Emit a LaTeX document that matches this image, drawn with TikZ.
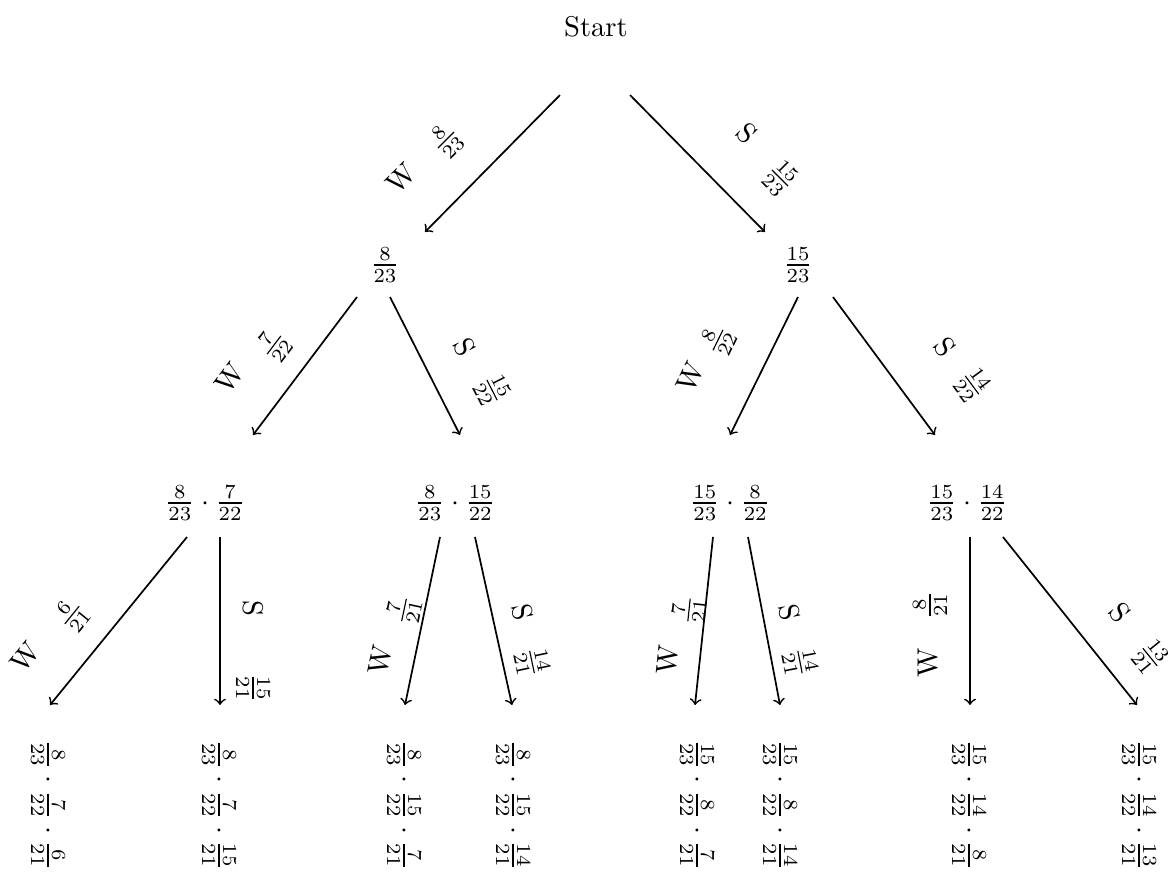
\documentclass[tikz,border=0pt]{standalone}
\begin{document}
\begin{tikzpicture}[x=0.35pt,y=0.35pt,
  edge/.style={->,semithick},
  lab/.style={inner sep=1pt},
  leaf/.style={inner sep=1pt,rotate=-90}]
\useasboundingbox (0,0) rectangle (1175,-872);
% nodes
\node (start) at (596,-27) {Start};
\node (n1) at (385,-265) {$\frac{8}{23}$};
\node (n2) at (798,-265) {$\frac{15}{23}$};
\node (a) at (205,-503) {$\frac{8}{23}\cdot\frac{7}{22}$};
\node (b) at (455,-503) {$\frac{8}{23}\cdot\frac{15}{22}$};
\node (c) at (730,-503) {$\frac{15}{23}\cdot\frac{8}{22}$};
\node (d) at (967,-503) {$\frac{15}{23}\cdot\frac{14}{22}$};
\node[leaf] (l1) at (48,-805) {$\frac{8}{23}\cdot\frac{7}{22}\cdot\frac{6}{21}$};
\node[leaf] (l2) at (219,-805) {$\frac{8}{23}\cdot\frac{7}{22}\cdot\frac{15}{21}$};
\node[leaf] (l3) at (404,-805) {$\frac{8}{23}\cdot\frac{15}{22}\cdot\frac{7}{21}$};
\node[leaf] (l4) at (513,-805) {$\frac{8}{23}\cdot\frac{15}{22}\cdot\frac{14}{21}$};
\node[leaf] (l5) at (697,-805) {$\frac{15}{23}\cdot\frac{8}{22}\cdot\frac{7}{21}$};
\node[leaf] (l6) at (780,-805) {$\frac{15}{23}\cdot\frac{8}{22}\cdot\frac{14}{21}$};
\node[leaf] (l7) at (969,-805) {$\frac{15}{23}\cdot\frac{14}{22}\cdot\frac{8}{21}$};
\node[leaf] (l8) at (1139,-805) {$\frac{15}{23}\cdot\frac{14}{22}\cdot\frac{13}{21}$};
% edge end points
\coordinate (s-l) at (560,-95);  \coordinate (n1-t) at (425,-232);
\coordinate (s-r) at (630,-95);  \coordinate (n2-t) at (765,-232);
\coordinate (n1-l) at (357,-297); \coordinate (a-t) at (253,-435);
\coordinate (n1-r) at (390,-297); \coordinate (b-t) at (460,-435);
\coordinate (n2-l) at (798,-297); \coordinate (c-t) at (730,-435);
\coordinate (n2-r) at (833,-297); \coordinate (d-t) at (935,-435);
\coordinate (a-l) at (187,-537); \coordinate (l1-t) at (50,-705);
\coordinate (a-r) at (220,-537); \coordinate (l2-t) at (220,-705);
\coordinate (b-l) at (440,-537); \coordinate (l3-t) at (405,-705);
\coordinate (b-r) at (475,-537); \coordinate (l4-t) at (512,-705);
\coordinate (c-l) at (713,-537); \coordinate (l5-t) at (695,-705);
\coordinate (c-r) at (748,-537); \coordinate (l6-t) at (780,-705);
\coordinate (d-l) at (970,-537); \coordinate (l7-t) at (970,-705);
\coordinate (d-r) at (1003,-537); \coordinate (l8-t) at (1137,-705);
% edges
\draw[edge] (s-l) -- (n1-t);
\draw[edge] (s-r) -- (n2-t);
\draw[edge] (n1-l) -- (a-t);
\draw[edge] (n1-r) -- (b-t);
\draw[edge] (n2-l) -- (c-t);
\draw[edge] (n2-r) -- (d-t);
\draw[edge] (a-l) -- (l1-t);
\draw[edge] (a-r) -- (l2-t);
\draw[edge] (b-l) -- (l3-t);
\draw[edge] (b-r) -- (l4-t);
\draw[edge] (c-l) -- (l5-t);
\draw[edge] (c-r) -- (l6-t);
\draw[edge] (d-l) -- (l7-t);
\draw[edge] (d-r) -- (l8-t);
% edge labels
\node[lab,rotate=45] (w0) at (401,-178) {W};
\node[lab,rotate=45] (p0) at (446,-140) {$\frac{8}{23}$};
\node[lab,rotate=-45] (s0) at (747,-133) {S};
\node[lab,rotate=-45] (q0) at (780,-178) {$\frac{15}{23}$};
\node[lab,rotate=53] (w1) at (230,-378) {W};
\node[lab,rotate=53] (p1) at (274,-345) {$\frac{7}{22}$};
\node[lab,rotate=-63] (s1) at (465,-347) {S};
\node[lab,rotate=-63] (q1) at (492,-390) {$\frac{15}{22}$};
\node[lab,rotate=64] (w2) at (690,-377) {W};
\node[lab,rotate=64] (p2) at (718,-340) {$\frac{8}{22}$};
\node[lab,rotate=-53.5] (s2) at (945,-347) {S};
\node[lab,rotate=-53.5] (q2) at (972,-385) {$\frac{14}{22}$};
\node[lab,rotate=51] (w3) at (25,-657) {W};
\node[lab,rotate=51] (p3) at (72,-615) {$\frac{6}{21}$};
\node[lab,rotate=-90] (s3) at (253,-608) {S};
\node[lab,rotate=-90] (q3) at (253,-688) {$\frac{15}{21}$};
\node[lab,rotate=78] (w4) at (380,-660) {W};
\node[lab,rotate=78] (p4) at (404,-610) {$\frac{7}{21}$};
\node[lab,rotate=-78] (s4) at (523,-612) {S};
\node[lab,rotate=-78] (q4) at (532,-662) {$\frac{14}{21}$};
\node[lab,rotate=84] (w5) at (668,-660) {W};
\node[lab,rotate=84] (p5) at (689,-610) {$\frac{7}{21}$};
\node[lab,rotate=-79] (s5) at (790,-612) {S};
\node[lab,rotate=-79] (q5) at (800,-662) {$\frac{14}{21}$};
\node[lab,rotate=90] (w6) at (928,-663) {W};
\node[lab,rotate=90] (p6) at (930,-605) {$\frac{8}{21}$};
\node[lab,rotate=-51] (s6) at (1120,-613) {S};
\node[lab,rotate=-51] (q6) at (1150,-657) {$\frac{13}{21}$};
\end{tikzpicture}
\end{document}
